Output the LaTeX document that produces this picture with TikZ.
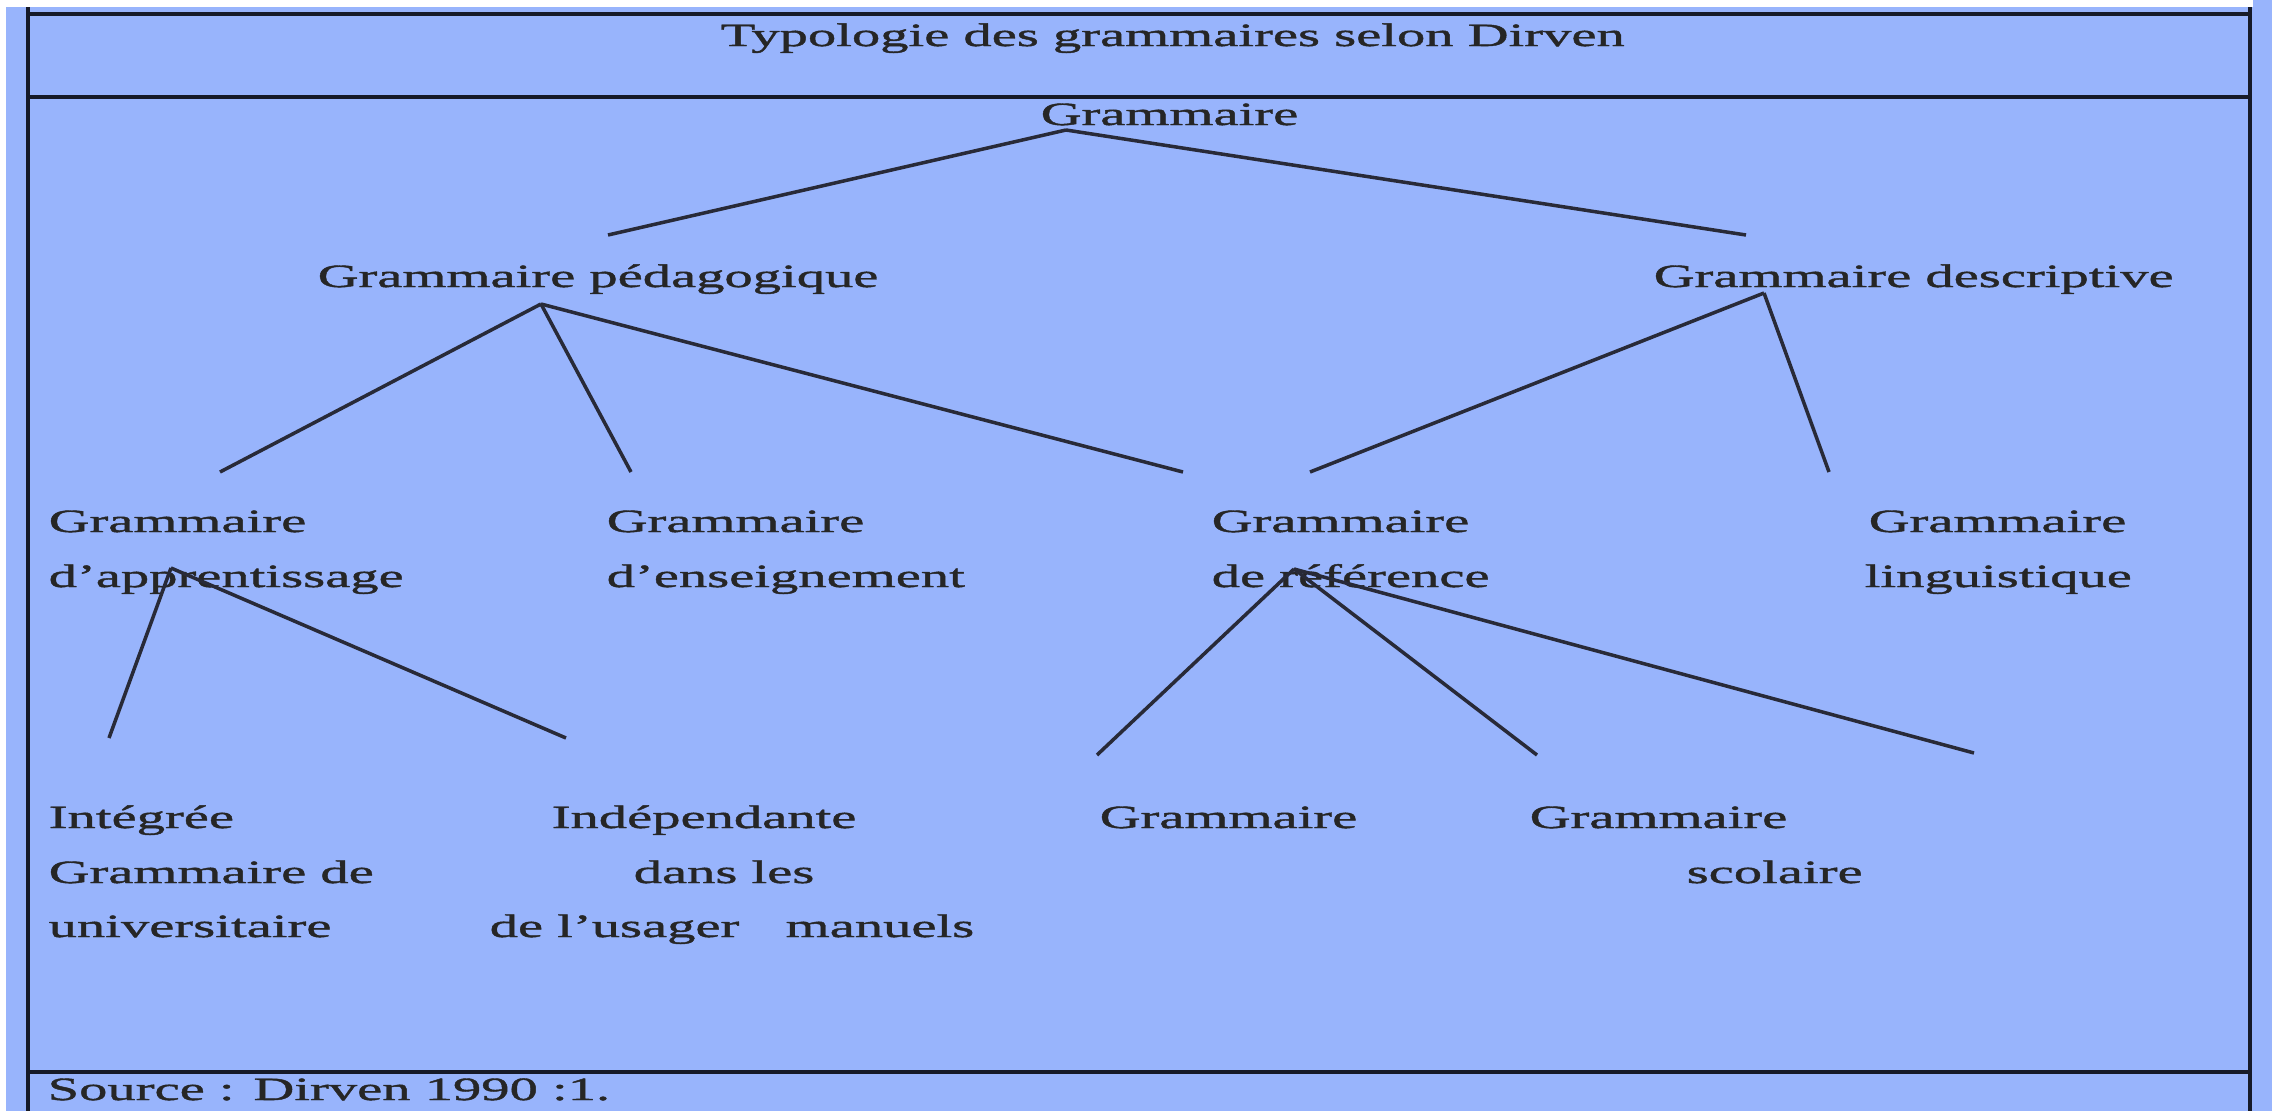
\documentclass[tikz,border=0pt]{standalone}
\usepackage{fontspec}
\setmainfont{Liberation Serif}[FakeStretch=1.74,FakeBold=1.3]
\definecolor{tablebg}{RGB}{152,180,252}
\definecolor{rulec}{RGB}{22,26,40}
\definecolor{branchc}{RGB}{40,42,56}
\begin{document}
\begin{tikzpicture}[line join=bevel]
  \tikzstyle{txt}=[anchor=base west,inner sep=0pt,text=black!85,font=\fontsize{9.25}{11}\selectfont]
  \tikzstyle{branch}=[draw=branchc,line width=1pt]
  \tikzstyle{tablerule}=[draw=rulec,line width=1.1pt]
  \useasboundingbox (0,0) rectangle (22.72,-11.11);
  % background and table frame
  \fill[tablebg] (0.06,-0.07) rectangle (22.72,-11.11);
  \fill[tablebg] (22.53,0) rectangle (22.72,-0.07);
  \draw[tablerule] (0.28,-0.07) -- (0.28,-11.11);
  \draw[tablerule] (22.50,-0.07) -- (22.50,-11.11);
  \draw[tablerule] (0.28,-0.14) -- (22.50,-0.14);
  \draw[tablerule] (0.28,-0.97) -- (22.50,-0.97);
  \draw[tablerule] (0.28,-10.72) -- (22.50,-10.72);
  % texts
  \node[txt] (title) at (7.20,-0.46) {Typologie des grammaires selon Dirven};
  \node[txt] (G) at (10.40,-1.25) {Grammaire};
  \node[txt] (G_ped) at (3.17,-2.87) {Grammaire pédagogique};
  \node[txt] (G_desc) at (16.53,-2.87) {Grammaire descriptive};
  \node[txt] (G_app) at (0.48,-5.32) {Grammaire};
  \node[txt] (G_app2) at (0.48,-5.87) {d’apprentissage};
  \node[txt] (G_ens) at (6.06,-5.32) {Grammaire};
  \node[txt] (G_ens2) at (6.06,-5.87) {d’enseignement};
  \node[txt] (G_ref) at (12.11,-5.32) {Grammaire};
  \node[txt] (G_ref2) at (12.11,-5.87) {de référence};
  \node[txt] (G_ling) at (18.68,-5.32) {Grammaire};
  \node[txt] (G_ling2) at (18.64,-5.87) {linguistique};
  \node[txt] (I_1) at (0.48,-8.28) {Intégrée};
  \node[txt] (I_2) at (0.48,-8.83) {Grammaire de};
  \node[txt] (I_3) at (0.48,-9.37) {universitaire};
  \node[txt] (D_1) at (5.51,-8.28) {Indépendante};
  \node[txt] (D_2) at (6.33,-8.83) {dans les};
  \node[txt] (D_3) at (4.89,-9.37) {de l’usager};
  \node[txt] (D_4) at (7.85,-9.37) {manuels};
  \node[txt] (R_1) at (10.99,-8.28) {Grammaire};
  \node[txt] (R_2) at (15.29,-8.28) {Grammaire};
  \node[txt] (R_3) at (16.86,-8.83) {scolaire};
  \node[txt] (src) at (0.47,-11.00) {Source : Dirven 1990 :1.};
  % branch points
  \coordinate (G_top) at (10.66,-1.30);
  \coordinate (G_ped_in) at (6.08,-2.35);
  \coordinate (G_desc_in) at (17.46,-2.35);
  \coordinate (G_ped_top) at (5.41,-3.04);
  \coordinate (G_app_in) at (2.20,-4.72);
  \coordinate (G_ens_in) at (6.31,-4.72);
  \coordinate (G_ref_in1) at (11.83,-4.72);
  \coordinate (G_desc_top) at (17.64,-2.93);
  \coordinate (G_ref_in2) at (13.10,-4.72);
  \coordinate (G_ling_in) at (18.29,-4.72);
  \coordinate (G_app_top) at (1.71,-5.68);
  \coordinate (I_in) at (1.09,-7.38);
  \coordinate (D_in) at (5.66,-7.38);
  \coordinate (G_ref_top) at (12.94,-5.69);
  \coordinate (R_in1) at (10.97,-7.55);
  \coordinate (R_in2) at (15.37,-7.55);
  \coordinate (R_in3) at (19.74,-7.53);
  % connectors
  \draw[branch] (G_top) -- (G_ped_in);
  \draw[branch] (G_top) -- (G_desc_in);
  \draw[branch] (G_ped_top) -- (G_app_in);
  \draw[branch] (G_ped_top) -- (G_ens_in);
  \draw[branch] (G_ped_top) -- (G_ref_in1);
  \draw[branch] (G_desc_top) -- (G_ref_in2);
  \draw[branch] (G_desc_top) -- (G_ling_in);
  \draw[branch] (G_app_top) -- (I_in);
  \draw[branch] (G_app_top) -- (D_in);
  \draw[branch] (G_ref_top) -- (R_in1);
  \draw[branch] (G_ref_top) -- (R_in2);
  \draw[branch] (G_ref_top) -- (R_in3);
\end{tikzpicture}
\end{document}
